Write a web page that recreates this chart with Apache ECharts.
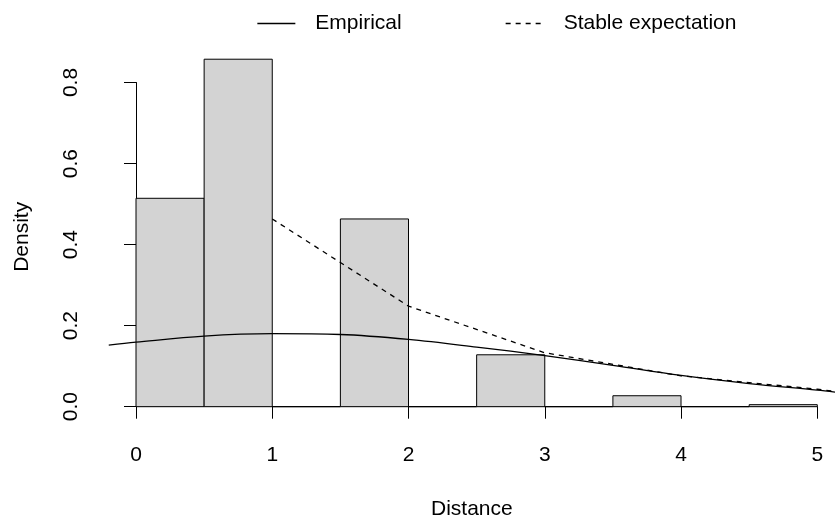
<!DOCTYPE html>
<html>
<head>
<meta charset="utf-8">
<script src="https://cdn.jsdelivr.net/npm/echarts@6/dist/echarts.min.js"></script>
<style>html,body{margin:0;padding:0;background:#fff;}#c{width:835px;height:521px;}</style>
</head>
<body>
<div id="c"></div>
<script>
// Histogram bins (left edge, right edge) and densities
const binStarts = [0, 0.5, 1, 1.5, 2, 2.5, 3, 3.5, 4, 4.5];
const binEnds   = [0.5, 1, 1.5, 2, 2.5, 3, 3.5, 4, 4.5, 5];
const densities = [0.514, 0.857, 0, 0.463, 0, 0.128, 0, 0.027, 0, 0.005];

// Empirical density curve (x, y)
const empX = [-0.2, 0, 0.5, 1, 1.5, 2, 2.5, 3, 3.5, 4, 4.5, 5, 5.13];
const empY = [0.152, 0.159, 0.174, 0.180, 0.178, 0.166, 0.147, 0.126, 0.102, 0.077, 0.057, 0.041, 0.036];

// Stable expectation (x, y)
const stabX = [1, 2, 3, 4, 5, 5.13];
const stabY = [0.463, 0.248, 0.133, 0.076, 0.043, 0.038];

const xTicks = [0, 1, 2, 3, 4, 5];
const yTicks = [0, 0.2, 0.4, 0.6, 0.8];

const FONT = "'Liberation Sans', Arial, sans-serif";
const FS = 21;

const chart = echarts.init(document.getElementById('c'), null, {renderer: 'canvas'});

const barData = binStarts.map((s, i) => [s, binEnds[i], densities[i]]);
const empData = empX.map((x, i) => [x, empY[i]]);
const stabData = stabX.map((x, i) => [x, stabY[i]]);

chart.setOption({
  animation: false,
  backgroundColor: '#fff',
  textStyle: {fontFamily: FONT, color: '#000'},
  grid: [
    {left: 108.75, right: 0, top: 45.1, bottom: 100.4, containLabel: false, outerBoundsMode: 'none'},
    {left: 136, right: 17.7, top: 82.5, bottom: 114.3, containLabel: false, outerBoundsMode: 'none'}
  ],
  legend: [
    {data: ['Empirical'], left: 256.7, top: 13, itemWidth: 38, itemHeight: 14, padding: 0,
     itemStyle: {opacity: 0}, lineStyle: {width: 1.3},
     textStyle: {fontFamily: FONT, fontSize: FS, color: '#000', padding: [0, 0, 0, 15]}, selectedMode: false},
    {data: ['Stable expectation'], left: 505, top: 13, itemWidth: 37, itemHeight: 14, padding: 0,
     itemStyle: {opacity: 0}, lineStyle: {width: 1.3},
     textStyle: {fontFamily: FONT, fontSize: FS, color: '#000', padding: [0, 0, 0, 16]}, selectedMode: false}
  ],
  xAxis: [
    {type: 'value', gridIndex: 0, min: -0.2, max: 5.13,
     axisLine: {show: false}, axisTick: {show: false}, axisLabel: {show: false}, splitLine: {show: false},
     name: 'Distance', nameLocation: 'middle', nameGap: 78,
     nameTextStyle: {fontFamily: FONT, fontSize: FS, color: '#000'}},
    {type: 'value', gridIndex: 1, min: 0, max: 5, interval: 1, offset: 14, position: 'bottom',
     axisLine: {show: true, lineStyle: {color: '#000', width: 1}},
     axisTick: {show: true, length: 12, inside: false, lineStyle: {color: '#000', width: 1}},
     axisLabel: {show: true, margin: 24, fontFamily: FONT, fontSize: FS, color: '#000',
                 showMinLabel: true, showMaxLabel: true},
     splitLine: {show: false}}
  ],
  yAxis: [
    {type: 'value', gridIndex: 0, min: -0.0343, max: 0.8918,
     axisLine: {show: false}, axisTick: {show: false}, axisLabel: {show: false}, splitLine: {show: false},
     name: 'Density', nameLocation: 'middle', nameGap: 76,
     nameTextStyle: {fontFamily: FONT, fontSize: FS, color: '#000', padding: [0, 8, 0, 0]}},
    {type: 'value', gridIndex: 1, min: 0, max: 0.8, interval: 0.2, offset: 27, position: 'left',
     axisLine: {show: true, lineStyle: {color: '#000', width: 1}},
     axisTick: {show: true, length: 12, inside: false, lineStyle: {color: '#000', width: 1}},
     axisLabel: {show: true, rotate: 90, margin: 27, fontFamily: FONT, fontSize: FS, color: '#000',
                 formatter: v => v.toFixed(1), showMinLabel: true, showMaxLabel: true},
     splitLine: {show: false}}
  ],
  series: [
    {
      type: 'custom', name: 'hist', xAxisIndex: 0, yAxisIndex: 0, clip: true,
      data: barData,
      encode: {x: [0, 1], y: 2},
      renderItem: function (params, api) {
        const p0 = api.coord([api.value(0), 0]);
        const p1 = api.coord([api.value(1), api.value(2)]);
        return {
          type: 'rect',
          shape: {x: p0[0], y: p1[1], width: p1[0] - p0[0], height: p0[1] - p1[1]},
          style: {fill: '#d3d3d3', stroke: '#000', lineWidth: 1}
        };
      },
      z: 1
    },
    {
      type: 'line', name: 'Empirical', xAxisIndex: 0, yAxisIndex: 0,
      data: empData, smooth: 0.35, symbol: 'none', showSymbol: false,
      lineStyle: {color: '#000', width: 1.3, type: 'solid'}, itemStyle: {color: '#000'}, z: 3
    },
    {
      type: 'line', name: 'Stable expectation', xAxisIndex: 0, yAxisIndex: 0,
      data: stabData, smooth: false, symbol: 'none', showSymbol: false,
      lineStyle: {color: '#000', width: 1.3, type: [5, 5]}, itemStyle: {color: '#000'}, z: 3
    }
  ]
});
</script>
</body>
</html>
